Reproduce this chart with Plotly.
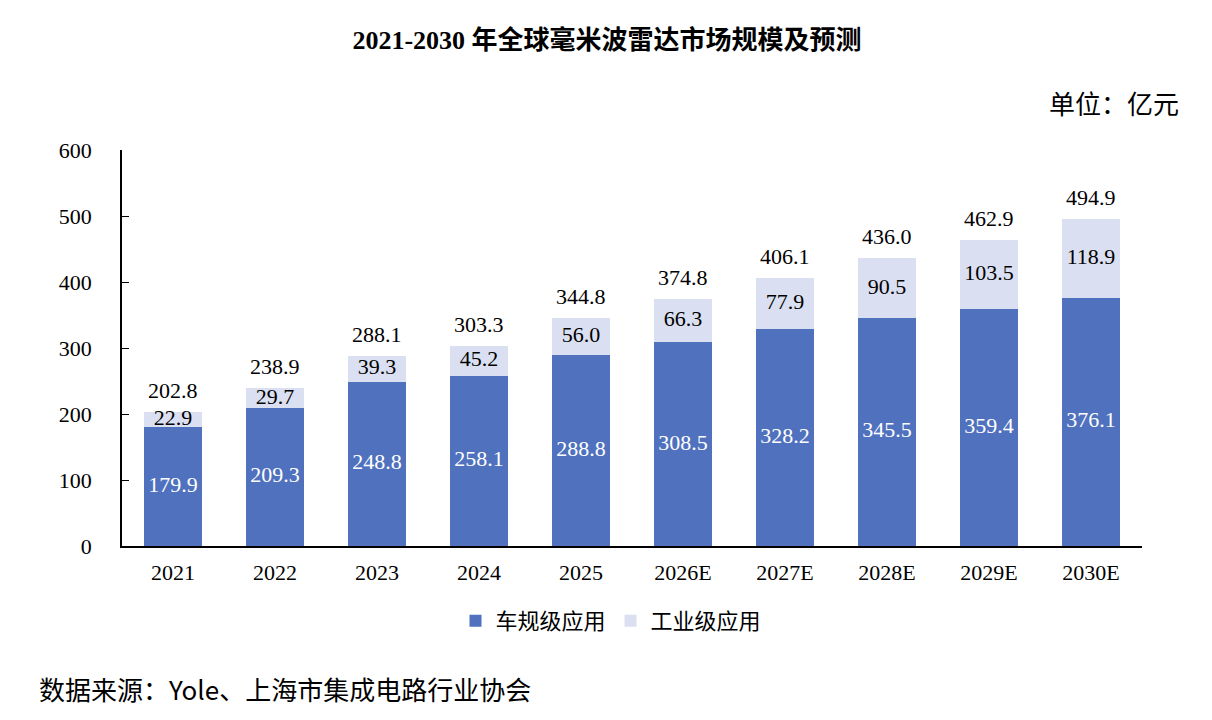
import plotly.graph_objects as go

years = ["2021", "2022", "2023", "2024", "2025", "2026E", "2027E", "2028E", "2029E", "2030E"]
auto = [179.9, 209.3, 248.8, 258.1, 288.8, 308.5, 328.2, 345.5, 359.4, 376.1]
industrial = [22.9, 29.7, 39.3, 45.2, 56.0, 66.3, 77.9, 90.5, 103.5, 118.9]
totals = [202.8, 238.9, 288.1, 303.3, 344.8, 374.8, 406.1, 436.0, 462.9, 494.9]

FONT = "Liberation Serif, Times New Roman, Noto Sans CJK SC"
CJK = "Noto Sans CJK SC, Liberation Serif"
NUM = 22

W, H = 1204, 712          # page body has an 8px margin
L, T, PW, PH = 114, 142, 1020, 396
R, B = W - L - PW, H - T - PH

def px(xp):  # page x -> paper
    return (xp - 8 - L) / PW

def py(yp):  # page y -> paper
    return (T + PH - (yp - 8)) / PH

fig = go.Figure()
fig.add_trace(go.Bar(x=years, y=auto, name="车规级应用",
                     marker=dict(color="#4F71BE", line=dict(width=0))))
fig.add_trace(go.Bar(x=years, y=industrial, name="工业级应用",
                     marker=dict(color="#DAE0F2", line=dict(width=0))))

# segment labels at segment midpoints
fig.add_trace(go.Scatter(
    x=years, y=[a / 2 for a in auto], mode="text", text=[f"{v:.1f}" for v in auto],
    textposition="middle center", textfont=dict(color="white", size=NUM, family=FONT),
    showlegend=False, hoverinfo="skip"))
fig.add_trace(go.Scatter(
    x=years, y=[a + i / 2 for a, i in zip(auto, industrial)], mode="text",
    text=[f"{v:.1f}" for v in industrial],
    textposition="middle center", textfont=dict(color="black", size=NUM, family=FONT),
    showlegend=False, hoverinfo="skip"))

# total labels above each stack (x given as category index)
anns = [dict(x=i, y=t, xref="x", yref="y", text=f"{t:.1f}", showarrow=False,
             yanchor="bottom", yshift=7, font=dict(family=FONT, size=NUM, color="black"))
        for i, t in enumerate(totals)]
anns += [
    dict(text="单位：亿元", x=px(1181), y=py(103), xref="paper", yref="paper",
         xanchor="right", yanchor="middle", showarrow=False, font=dict(family=CJK, size=26)),
    dict(text="数据来源：Yole、上海市集成电路行业协会", x=px(37), y=py(688),
         xref="paper", yref="paper", xanchor="left", yanchor="middle", showarrow=False,
         font=dict(family=CJK, size=26)),
]

fig.update_layout(
    width=W, height=H,
    barmode="stack", bargap=0.44,
    paper_bgcolor="white", plot_bgcolor="white",
    margin=dict(l=L, r=R, t=T, b=B, autoexpand=False),
    font=dict(family=FONT, size=NUM, color="black"),
    title=dict(text="<b>2021-2030 年全球毫米波雷达市场规模及预测</b>", x=(607 - 8) / W,
               xanchor="center", xref="container", y=1 - (40 - 8) / H, yanchor="middle",
               yref="container", font=dict(family=FONT, size=26, color="black")),
    xaxis=dict(type="category", range=[-0.5, len(years) - 0.5], showline=True,
               linecolor="black", linewidth=1.5, ticks="",
               showgrid=False, tickfont=dict(family=FONT, size=NUM), ticklabelstandoff=6),
    yaxis=dict(range=[0, 600], dtick=100, showline=True, linecolor="black", linewidth=1.5,
               ticks="inside", ticklen=7, tickcolor="black", showgrid=False, zeroline=False,
               tickfont=dict(family=FONT, size=NUM), ticklabelstandoff=24),
    legend=dict(orientation="h", x=px(611), xanchor="center", y=py(621), yanchor="middle",
                font=dict(family=CJK, size=22), traceorder="normal"),
    annotations=anns,
)

fig.write_html("out.html")
